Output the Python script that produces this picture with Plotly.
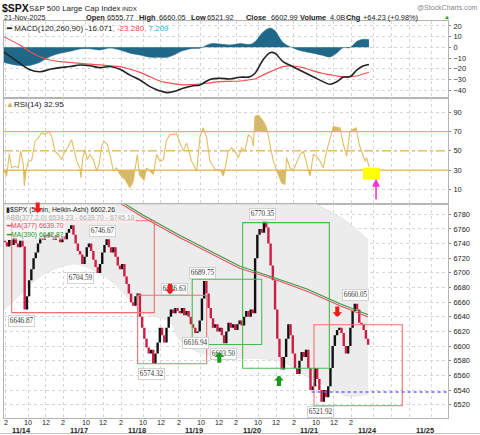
import plotly.graph_objects as go

# ---------------- data ----------------
# time axis: trading hours since 11/13 09:30 (each session is 6.5 h long)
SESSION = 6.5
session_dates = ["11/13", "11/14", "11/17", "11/18", "11/19", "11/20", "11/21", "11/24", "11/25"]
hour_labels = ["10", "12", "2"]
hour_offsets = [0.5, 2.5, 4.5]

# 15-minute Heikin-Ashi closes per session
ha_1113 = [6742, 6736, 6745, 6738, 6748, 6740, 6735, 6744, 6736]          # from 13:45
ha_1114 = [6650, 6668, 6690, 6705, 6720, 6728, 6740, 6748, 6745, 6752, 6748, 6755, 6750,
           6745, 6752, 6748, 6742, 6750, 6746, 6755, 6760, 6765, 6752, 6740, 6730, 6725]
ha_1117 = [6712, 6722, 6735, 6740, 6730, 6718, 6708, 6700, 6712, 6728, 6738, 6746, 6735,
           6728, 6735, 6722, 6710, 6705, 6712, 6695, 6685, 6672, 6660, 6655, 6668, 6672]
ha_1118 = [6640, 6625, 6610, 6598, 6590, 6595, 6576, 6590, 6605, 6625, 6615, 6605, 6625,
           6640, 6650, 6645, 6652, 6648, 6645, 6652, 6642, 6648, 6640, 6630, 6625, 6618]
ha_1119 = [6620, 6635, 6665, 6689, 6672, 6652, 6638, 6625, 6630, 6620, 6625, 6615, 6604,
           6620, 6632, 6625, 6630, 6622, 6630, 6635, 6628, 6640, 6648, 6640, 6650, 6645]
ha_1120 = [6720, 6752, 6760, 6755, 6770, 6762, 6740, 6710, 6690, 6650, 6610, 6585, 6568,
           6585, 6610, 6630, 6615, 6590, 6570, 6562, 6580, 6592, 6585, 6595, 6570, 6540]
ha_1121 = [6545, 6570, 6555, 6540, 6524, 6540, 6530, 6545, 6570, 6600, 6615, 6622, 6625,
           6618, 6600, 6590, 6600, 6625, 6648, 6658, 6650, 6632, 6630, 6622, 6610, 6602]
sessions = [(0, 4.25, ha_1113), (1, 0.0, ha_1114), (2, 0.0, ha_1117), (3, 0.0, ha_1118),
            (4, 0.0, ha_1119), (5, 0.0, ha_1120), (6, 0.0, ha_1121)]

# Bollinger band (377, 2.0)
bb_t = [4.29, 6.09, 8.35, 10.61, 12.30, 13.99, 16.25, 17.94, 19.63, 21.33, 23.02, 24.15,
        26.40, 30.13, 33.18, 35.77, 38.25, 41.08, 43.00, 45.37]
bb_lower = [6650, 6670, 6695, 6708, 6712, 6706, 6690, 6670, 6648, 6640, 6633, 6608,
            6591, 6584, 6583, 6578, 6560, 6543, 6532, 6534.23]
bb_upper = [6850, 6860, 6865, 6868, 6868, 6865, 6860, 6855, 6850, 6845, 6840, 6835,
            6830, 6820, 6812, 6805, 6800, 6784, 6770, 6745.18]

# moving averages
ma_t = [15.12, 17.38, 19.97, 24.15, 30.92, 34.64, 38.48, 42.21, 45.37]
ma377 = [6812, 6795, 6776, 6748, 6706, 6692, 6675, 6655, 6639.70]
ma390 = [6815, 6798, 6779, 6751, 6709, 6694, 6678, 6658, 6642.87]

# MACD(120,260,90)
macd_t = [4.29, 6.09, 7.22, 8.35, 9.48, 10.61, 11.74, 12.86, 13.99, 15.12, 16.25, 17.38,
          18.51, 19.63, 20.76, 21.89, 22.68, 23.36, 24.49, 25.61, 26.40, 27.53, 28.66,
          29.79, 30.92, 32.05, 32.61, 33.51, 34.30, 34.87, 35.77, 36.90, 38.03, 39.16,
          40.29, 41.08, 41.87, 42.54, 43.33, 44.12, 44.80, 45.47]
macd = [-4.5, -15, -21, -22.8, -20.6, -19, -18, -16.5, -17.2, -19, -18, -20.6, -26, -30.6,
        -36.8, -40.8, -42.4, -41.5, -38.3, -35.9, -35.2, -30, -29, -29.6, -28, -27.5, -24.3,
        -11.9, -5, -5.6, -13.4, -18.1, -22.8, -27.5, -32.1, -34.6, -32, -28, -27.5, -21.2,
        -17.5, -16.071]
signal = [9.7, 2.1, -4.1, -8.8, -11.9, -13.4, -14.2, -15, -15.8, -16.5, -17.3, -18.1, -20.5,
          -23.4, -27.5, -31.5, -33, -34, -35.2, -34.8, -34.3, -33.2, -32.1, -31.8, -31.5,
          -30.3, -29.6, -26, -23, -21, -18, -17.5, -19, -22, -24.5, -25.6, -26.8, -27.5,
          -27.2, -26.8, -25, -23.28]

# RSI(14)
rsi_t = [4.21, 4.59, 4.89, 5.15, 5.53, 5.91, 6.17, 6.47, 6.58, 6.77, 7.03, 7.41, 7.79, 8.16,
         8.54, 8.92, 9.29, 9.67, 10.04, 10.42, 10.80, 11.17, 11.55, 11.92, 12.19, 12.56,
         12.86, 12.98, 13.17, 13.43, 13.69, 13.99, 14.37, 14.75, 15.05, 15.31, 15.57, 15.95,
         16.25, 16.63, 17.00, 17.38, 17.94, 18.51, 18.88, 19.33, 19.56, 20.09, 20.39, 20.76,
         21.14, 21.52, 21.89, 22.27, 22.64, 23.02, 23.40, 23.77, 24.15, 24.52, 24.90, 25.46,
         26.03, 26.41, 26.78, 27.16, 27.53, 28.10, 28.66, 29.04, 29.23, 29.60, 29.98, 30.35,
         30.73, 31.11, 31.48, 31.86, 32.24, 32.42, 32.61, 32.99, 33.55, 33.93, 34.30, 34.68,
         35.24, 35.62, 35.99, 36.18, 36.56, 36.94, 37.31, 37.69, 38.07, 38.44, 38.82, 39.19,
         39.57, 39.95, 40.32, 40.70, 41.07, 41.45, 41.83, 42.20, 42.58, 42.96, 43.33, 43.71,
         44.01, 44.38, 44.65, 45.02, 45.21, 45.51]
rsi = [30.7, 23.8, 46.9, 32.4, 34, 32.4, 49.7, 35.9, 13.4, 29, 39.3, 40, 60, 63.4, 68.6, 66.9,
       70.3, 65.2, 49.7, 46.2, 41, 49.7, 54.8, 61.7, 51.4, 37.6, 32.4, 22, 42.8, 51.4, 41,
       46.2, 41, 29, 37.6, 54.8, 60, 56.6, 46.2, 29, 32.4, 25.5, 20.3, 11.7, 18.6, 46.2, 25.5,
       19.3, 32.4, 29, 25.5, 46.2, 39.3, 41, 61.7, 66.9, 67.6, 67.6, 58.3, 49.7, 58.3, 39.3,
       29, 65.2, 73.8, 63.4, 39.3, 30.7, 30.7, 23.8, 32.4, 49.7, 53.1, 49.7, 42.8, 53.1, 49.7,
       66.9, 63.4, 54.8, 85.9, 87, 80.7, 73.8, 56.6, 39.3, 25.5, 16.9, 15.2, 42.8, 32.4, 30,
       38, 46.2, 49.7, 36, 23.8, 46.2, 44.5, 39.3, 32.4, 49.7, 63.4, 75.5, 74.5, 73.8, 56.6,
       44.5, 70.3, 72, 73.8, 56.6, 49.7, 39.3, 42.8, 32.95]

# annotations on the price panel
range_boxes = [(5.16, 21.25, 6645.7, 6771.2, "#f07070"), (19.37, 27.16, 6575.8, 6669.4, "#f07070"),
               (25.53, 33.37, 6602.2, 6691.3, "#4cb84c"), (31.22, 41.00, 6569.7, 6768.7, "#4cb84c"),
               (39.27, 49.23, 6518.6, 6629.2, "#f07070")]
sell_arrows = [(8.09, 6781.8), (23.02, 6670.8), (41.90, 6639.7)]
buy_arrows = [(28.58, 6591.7), (35.32, 6559.7)]
support_level = (39.0, 6537.4)
price_labels = [(6.32, 6633.8, "6646.87"), (12.94, 6692.7, "6704.59"), (15.35, 6757.1, "6746.67"),
                (23.58, 6677.6, "6646.63"), (26.74, 6699.5, "6689.75"), (20.95, 6561.5, "6574.32"),
                (25.92, 6604.0, "6616.94"), (29.11, 6589.9, "6603.50"), (33.48, 6780.0, "6770.35"),
                (43.90, 6670.3, "6660.05"), (40.02, 6510.4, "6521.92")]

# ---------------- layout geometry ----------------
W, H = 480, 435
ML, MR, MT, MB = 4, 32, 21, 17
PW, PH = W - ML - MR, H - MT - MB
XR = [4.29, 54.39]
MACD_R = [-47.4, 24.6]
RSI_R = [-5.5, 104.9]
PRICE_R = [6501.8, 6793.7]


def pxx(x):
    return (x - ML) / PW


def pxy(y):
    return (H - MB - y) / PH


D_MACD = [pxy(98), 1.0]
D_RSI = [pxy(204.3), pxy(98)]
D_PRICE = [0.0, pxy(204.3)]

SANS = "Liberation Sans, Arial, sans-serif"
SERIF = "Liberation Serif, DejaVu Serif, serif"
UP, DOWN = "#111111", "#d01c45"

fig = go.Figure()

# ---- MACD panel ----
hist = [m - s for m, s in zip(macd, signal)]
fig.add_trace(go.Scatter(x=macd_t, y=hist, mode="lines", fill="tozeroy", fillcolor="#1f6888",
                         line=dict(width=0.5, color="#1f6888", shape="spline"), xaxis="x", yaxis="y"))
fig.add_trace(go.Scatter(x=macd_t, y=signal, mode="lines", line=dict(width=1.2, color="#f24e4e", shape="spline"),
                         xaxis="x", yaxis="y"))
fig.add_trace(go.Scatter(x=macd_t, y=macd, mode="lines", line=dict(width=1.6, color="#222222", shape="spline"),
                         xaxis="x", yaxis="y"))


# ---- RSI panel ----
def clipped(ts, vs, level, above):
    xs, ys = [], []
    for i in range(len(ts)):
        if i > 0:
            a, b = vs[i - 1] - level, vs[i] - level
            if a * b < 0:
                f = a / (a - b)
                xs.append(ts[i - 1] + f * (ts[i] - ts[i - 1]))
                ys.append(level)
        xs.append(ts[i])
        ys.append(max(vs[i], level) if above else min(vs[i], level))
    return xs + [xs[-1], xs[0]], ys + [level, level]


for lvl, above in ((70, True), (30, False)):
    fx, fy = clipped(rsi_t, rsi, lvl, above)
    fig.add_trace(go.Scatter(x=fx, y=fy, mode="lines", fill="toself", fillcolor="rgba(206,172,84,0.85)",
                             line=dict(width=0), xaxis="x2", yaxis="y2"))
fig.add_trace(go.Scatter(x=rsi_t, y=rsi, mode="lines", line=dict(width=1.1, color="#e3bd62"),
                         xaxis="x2", yaxis="y2"))

# ---- price panel ----
fig.add_trace(go.Scatter(x=bb_t, y=bb_lower, mode="lines", line=dict(width=0.6, color="#dcdcdc", shape="spline"),
                         xaxis="x3", yaxis="y3"))
fig.add_trace(go.Scatter(x=bb_t, y=bb_upper, mode="lines", line=dict(width=0.6, color="#dcdcdc", shape="spline"),
                         fill="tonexty", fillcolor="#ececec", xaxis="x3", yaxis="y3"))

t, c = [], []
for d, off, arr in sessions:
    for i, v in enumerate(arr):
        t.append(d * SESSION + off + i * 0.25 + 0.125)
        c.append(v)
o = [c[0] + 2] + c[:-1]
segs = {UP: ([], []), DOWN: ([], [])}
for ti, oi, ci in zip(t, o, c):
    col = UP if ci >= oi else DOWN
    lo, hi = min(oi, ci), max(oi, ci)
    if hi - lo < 2:
        lo, hi = lo - 1, hi + 1
    segs[col][0].extend([ti, ti, None])
    segs[col][1].extend([lo, hi, None])
for col, (sx, sy) in segs.items():
    fig.add_trace(go.Scatter(x=sx, y=sy, mode="lines", line=dict(width=2.4, color=col),
                             connectgaps=False, xaxis="x3", yaxis="y3"))

fig.add_trace(go.Scatter(x=ma_t, y=ma390, mode="lines", line=dict(width=1.1, color="#3a9a3a"),
                         xaxis="x3", yaxis="y3"))
fig.add_trace(go.Scatter(x=ma_t, y=ma377, mode="lines", line=dict(width=1.1, color="#e8506a"),
                         xaxis="x3", yaxis="y3"))

shapes = []
# RSI reference lines
for lvl, dash in ((70, "solid"), (50, "dashdot"), (30, "solid")):
    shapes.append(dict(type="line", xref="x2", yref="y2", x0=XR[0], x1=XR[1], y0=lvl, y1=lvl,
                       line=dict(color="#e9b448", width=1.3, dash=dash)))
# yellow highlight on RSI
shapes.append(dict(type="rect", xref="x2", yref="y2", x0=44.8, x1=46.72, y0=20.2, y1=32.4,
                   fillcolor="#ffff00", line=dict(width=0), layer="above"))
# range boxes
for x0, x1, y0, y1, col in range_boxes:
    shapes.append(dict(type="rect", xref="x3", yref="y3", x0=x0, x1=x1, y0=y0, y1=y1,
                       line=dict(color=col, width=1.1), fillcolor="rgba(0,0,0,0)"))
# support level
shapes.append(dict(type="line", xref="x3", yref="y3", x0=support_level[0], x1=XR[1],
                   y0=support_level[1], y1=support_level[1], line=dict(color="#6a6af0", width=1.4, dash="dot")))
# outer bottom border
shapes.append(dict(type="line", xref="paper", yref="paper", x0=pxx(0), x1=pxx(480), y0=pxy(433.5), y1=pxy(433.5),
                   line=dict(color="#c4c4c4", width=1)))

annotations = []


def txt(x, y, text, size=8, color="#222", font=SANS, anchor="left", bg=None):
    annotations.append(dict(xref="paper", yref="paper", x=pxx(x), y=pxy(y), text=text, showarrow=False,
                            xanchor=anchor, yanchor="middle", font=dict(family=font, size=size, color=color),
                            bgcolor=bg, borderpad=0))


# header
txt(1, 8, "<b>$SPX</b>", 10.5, "#111")
txt(28, 8.5, "S&P 500 Large Cap Index", 7.9, "#222")
txt(121, 9, "INDX", 6.2, "#222")
txt(479, 7, "@StockCharts.com", 7, "#888", SANS, "right")
txt(3, 17.5, "21-Nov-2025", 7.2, "#222")
header2 = [(85, "<b>Open</b>"), (106, "6555.77"), (138, "<b>High</b>"), (158, "6660.05"),
           (190, "<b>Low</b>"), (206, "6521.92"), (245, "<b>Close</b>"), (270, "6602.99"),
           (299, "<b>Volume</b>"), (329, "4.0B"), (345, "<b>Chg</b>"), (362, "+64.23 (+0.98%)")]
for hx, ht in header2:
    txt(hx, 17.5, ht, 7.4, "#222")
txt(443, 17, "▲", 6, "#2a9a2a")

# panel legends
txt(5, 28, "<b>━</b> MACD(120,260,90) -16.071<span style='color:#f04848'>, -23.280</span>"
    "<span style='color:#3aa2dc'>, 7.209</span>", 8, "#222", SANS)
txt(5, 105, "<span style='color:#d9b050'>▲</span>RSI(14) 32.95", 8, "#222", SANS)
txt(5, 210, "▮$SPX (5 min, Heikin-Ashi) 6602.26", 6.8, "#222", SANS, bg="rgba(255,255,255,0.6)")
txt(5, 218, "<span style='color:#bbb'>A</span>BB(377,2.0) 6534.23 - 6639.70 - 6745.18", 6.8, "#aaa", SANS,
    bg="rgba(255,255,255,0.6)")
txt(5, 226, "<b>━</b>MA(377) 6639.70", 6.8, "#e8405a", SANS, bg="rgba(255,255,255,0.6)")
txt(5, 234.5, "<b>━</b>MA(390) 6642.87", 6.8, "#2e962e", SANS, bg="rgba(255,255,255,0.6)")

# magenta arrow on RSI
annotations.append(dict(xref="x2", yref="y2", x=46.27, y=21.0, ax=0, ay=22, showarrow=True, text="",
                        arrowcolor="#ff30d0", arrowwidth=1.6, arrowhead=2, arrowsize=1))

# price extreme labels
for tx, ty, lab in price_labels:
    annotations.append(dict(xref="x3", yref="y3", x=tx, y=ty, text=lab, showarrow=False,
                            font=dict(family=SERIF, size=7.2, color="#333"), bgcolor="white",
                            bordercolor="#c8c8c8", borderwidth=0.8, borderpad=1))

# signal block arrows (drawn above the labels)
for tx, tp in sell_arrows:
    annotations.append(dict(xref="x3", yref="y3", x=tx, y=tp, ax=0, ay=-12, showarrow=True, text="",
                            arrowcolor="#ee1c1c", arrowwidth=4, arrowhead=1, arrowsize=0.4))
for tx, tp in buy_arrows:
    annotations.append(dict(xref="x3", yref="y3", x=tx, y=tp, ax=0, ay=12, showarrow=True, text="",
                            arrowcolor="#1a9a1a", arrowwidth=4, arrowhead=1, arrowsize=0.4))

# hour labels and date labels under the time axis
tickvals, ticktext = [4.5], ["2"]
for d in range(1, 7):
    for lab, off in zip(hour_labels, hour_offsets):
        tickvals.append(d * SESSION + off)
        ticktext.append(lab)
for tv, tt in zip(tickvals, ticktext):
    annotations.append(dict(xref="x3", yref="paper", x=tv, y=pxy(422.5), text=tt, showarrow=False,
                            xanchor="center", yanchor="middle", font=dict(family=SANS, size=7.2, color="#222")))
for d in range(1, len(session_dates)):
    annotations.append(dict(xref="x3", yref="paper", x=d * SESSION - 0.25, y=pxy(430.5),
                            text="<b>" + session_dates[d] + "</b>", showarrow=False, xanchor="center",
                            yanchor="middle", font=dict(family=SANS, size=7.4, color="#222")))

gridvals = tickvals + [d * SESSION + off for d in (7, 8) for off in hour_offsets]

GRID = "#d6d6d6"
LINE = "#b4b4b4"


def xax(anchor):
    return dict(domain=[0, 1], anchor=anchor, range=XR, tickmode="array", tickvals=gridvals,
                showticklabels=False, showgrid=True, gridcolor=GRID, griddash="dot", gridwidth=1,
                zeroline=False, showline=True, mirror=True, linecolor=LINE, ticks="")


def yax(domain, rng, vals, anchor):
    return dict(domain=domain, anchor=anchor, range=rng, side="right", tickmode="array", tickvals=vals,
                showgrid=True, gridcolor=GRID, griddash="dot", zeroline=False, showline=True, mirror=True,
                linecolor=LINE, ticks="outside", ticklen=2, tickcolor="#888",
                tickfont=dict(family=SANS, size=7.4, color="#222"), ticklabelstandoff=1)


fig.update_layout(
    width=W, height=H, margin=dict(l=ML, r=MR, t=MT, b=MB, pad=0),
    paper_bgcolor="white", plot_bgcolor="white", showlegend=False,
    xaxis=xax("y"), xaxis2=xax("y2"), xaxis3=xax("y3"),
    yaxis=yax(D_MACD, MACD_R, [-40, -30, -20, -10, 0, 10, 20], "x"),
    yaxis2=yax(D_RSI, RSI_R, [10, 30, 50, 70, 90], "x2"),
    yaxis3=yax(D_PRICE, PRICE_R, list(range(6520, 6781, 20)), "x3"),
    shapes=shapes, annotations=annotations,
)
fig.write_html("out.html")
